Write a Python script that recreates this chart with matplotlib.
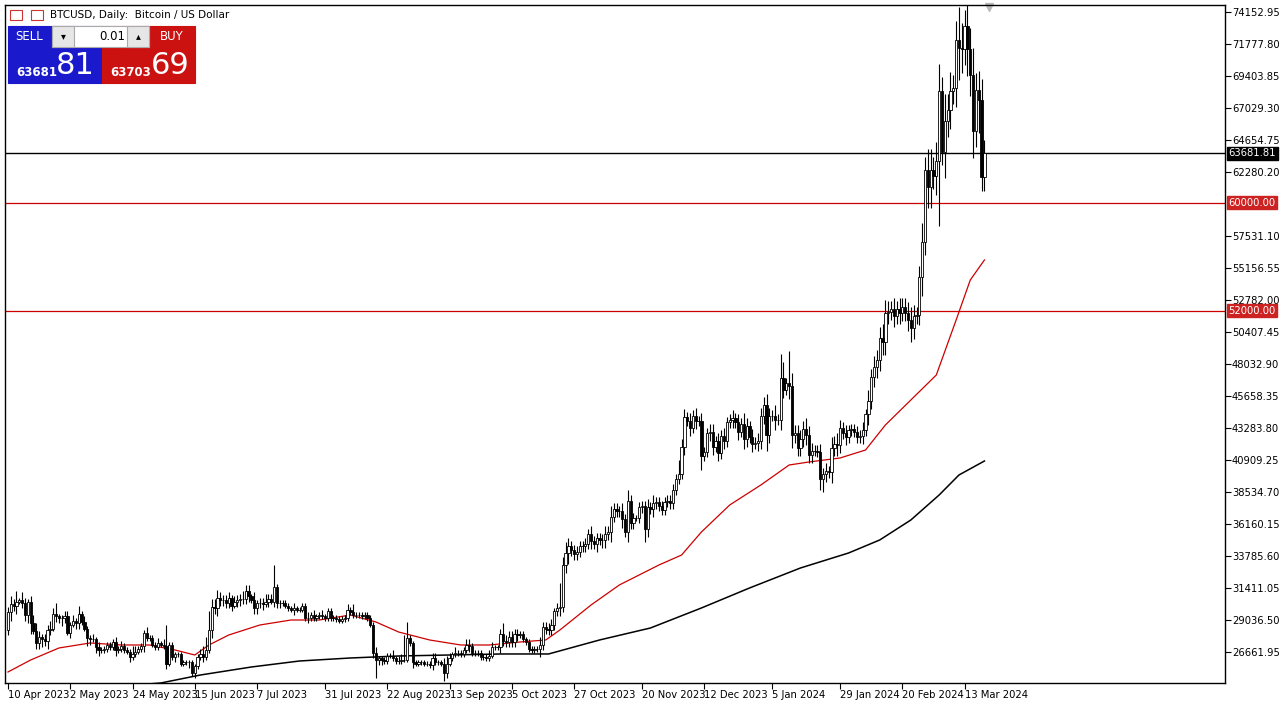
import datetime as dt
import numpy as np
import matplotlib
matplotlib.use("Agg")
import matplotlib.pyplot as plt
from matplotlib.patches import Rectangle
from matplotlib.transforms import blended_transform_factory

#
# Daily closes (thousands USD), 10 Apr 2023 .. 20 Mar 2024
#
closes_by_month = [
    [29.6, 30.2, 30.1, 30.4, 30.5, 30.3, 29.4, 30.4, 28.8, 28.2, 27.3, 27.8, 27.6, 27.5, 28.3, 28.4, 29.5, 29.3, 29.2, 29.2, 29.3],
    [28.1, 28.7, 29.0, 28.8, 29.5, 28.9, 28.4, 27.7, 27.6, 27.6, 27.0, 26.8, 26.8, 26.9, 27.2, 27.0, 27.4, 26.8, 26.9, 27.1, 26.8, 26.7, 26.3, 26.5, 26.7, 26.9, 27.1, 28.1, 27.7, 27.7, 27.2],
    [27.0, 27.3, 27.2, 27.1, 25.8, 27.2, 26.3, 26.5, 26.5, 25.8, 25.9, 25.9, 25.9, 25.1, 25.6, 26.3, 26.5, 26.3, 26.8, 28.3, 30.0, 29.9, 30.7, 30.5, 30.5, 30.3, 30.7, 30.1, 30.4, 30.5],
    [30.6, 30.6, 31.2, 30.8, 30.5, 29.9, 30.3, 30.3, 30.2, 30.4, 30.6, 30.4, 31.5, 30.3, 30.3, 30.3, 30.1, 29.9, 29.8, 29.9, 29.8, 29.8, 30.1, 29.2, 29.2, 29.4, 29.2, 29.3, 29.4, 29.3, 29.2],
    [29.7, 29.2, 29.2, 29.1, 29.0, 29.1, 29.2, 29.8, 29.6, 29.4, 29.4, 29.4, 29.3, 29.4, 29.2, 28.7, 26.6, 26.1, 26.2, 26.1, 26.0, 26.4, 26.4, 26.2, 26.0, 26.0, 26.1, 26.1, 27.7, 27.3, 25.9],
    [25.8, 25.9, 25.9, 25.8, 25.8, 25.7, 26.2, 25.9, 25.9, 25.8, 25.1, 25.8, 26.2, 26.5, 26.6, 26.6, 26.5, 26.8, 27.2, 27.1, 26.6, 26.6, 26.6, 26.3, 26.3, 26.2, 26.4, 27.0, 27.0, 27.0],
    [28.0, 27.5, 27.4, 27.8, 27.4, 28.0, 27.9, 28.0, 27.6, 27.4, 26.9, 26.8, 26.9, 26.9, 27.2, 28.5, 28.4, 28.3, 28.7, 29.7, 29.9, 30.0, 33.1, 34.0, 34.5, 34.2, 33.9, 34.1, 34.5, 34.5, 34.7],
    [35.4, 34.9, 34.7, 35.1, 35.0, 35.0, 35.4, 35.6, 36.7, 37.3, 37.1, 37.1, 36.5, 35.6, 37.9, 36.2, 36.6, 36.6, 37.4, 37.5, 35.8, 37.4, 37.3, 37.7, 37.8, 37.5, 37.2, 37.8, 37.9, 37.7],
    [38.7, 39.5, 39.9, 41.9, 44.1, 43.8, 43.3, 44.2, 43.8, 43.8, 41.2, 41.5, 42.9, 43.0, 41.9, 42.3, 41.4, 42.7, 42.3, 43.7, 43.9, 44.0, 43.7, 43.0, 43.6, 42.5, 43.4, 42.6, 42.1, 42.2, 42.3],
    [44.2, 45.0, 42.8, 44.2, 44.2, 43.9, 43.9, 47.0, 46.1, 46.6, 46.4, 42.8, 42.9, 41.8, 42.5, 43.2, 42.8, 41.3, 41.6, 41.6, 41.5, 39.5, 39.9, 40.1, 40.0, 41.8, 42.1, 42.0, 43.3, 42.9, 42.6],
    [43.1, 43.2, 43.0, 42.6, 42.7, 43.1, 44.3, 45.3, 47.1, 47.8, 48.3, 50.0, 49.7, 51.8, 51.9, 52.1, 51.6, 52.1, 51.8, 52.3, 51.8, 51.3, 50.7, 51.6, 51.7, 54.5, 57.1, 62.4, 61.2],
    [62.4, 62.0, 63.1, 68.3, 63.8, 66.1, 66.9, 68.3, 68.5, 72.1, 71.5, 71.4, 73.1, 71.4, 69.5, 65.3, 68.4, 67.6, 61.9, 63.68],
]
first_open = 28.3

# wick lengths in units of 200 USD, base-36 digits, one char per day
upper_wicks = [
    "232413212332122324112",
    "2121312112121111121211132111211",
    "121281111111111123573332222122",
    "2322131223228111111211112121121",
    "1111111213111111121111121229611",
    "111111221123212111221111112211",
    "2422222111111132222129343222222",
    "232222324222324221222323222222",
    "2253323232322332323223232432323",
    "3343242962c53333433223232434323",
    "22222324344455434343345434758",
    "857a5a6757c96a8a6785",
]
lower_wicks = [
    "232312234122323212232",
    "1212211321221111121111211112111",
    "111121121111212112113232222212",
    "2222122221212221111211112111111",
    "1111111111111111272211111111112",
    "111111211132111111121111111111",
    "2222222111111132222223234222222",
    "232323324222324221225323222222",
    "2222323232522332323223232432323",
    "3363242432553333433224532434323",
    "22222324344455434343345434758",
    "857o5a6757c96a8a6c55",
]

# moving averages: (day offset, price)
red_ma_days = [0, 8, 18, 29, 40, 50, 59, 66, 71, 78, 89, 100, 110, 121, 130, 138, 149, 160, 170, 181,
               190, 195, 206, 216, 230, 238, 245, 255, 266, 276, 283, 294, 303, 310, 319, 328, 335, 340, 345]
red_ma_vals = [25181, 26071, 26962, 27333, 27184, 27184, 26813, 26442, 27184, 27926, 28668, 29039, 29039, 29410,
               28891, 28149, 27555, 27184, 27184, 27407, 27555, 28297, 30152, 31636, 33120, 33862, 35569, 37572,
               39056, 40540, 40763, 41060, 41653, 43508, 45363, 47218, 51299, 54267, 55751]
black_ma_days = [45, 54, 68, 86, 103, 121, 138, 156, 174, 191, 209, 227, 245, 262, 280, 297, 308, 319, 329, 336, 345]
black_ma_vals = [24216, 24365, 24958, 25552, 25997, 26220, 26368, 26442, 26517, 26517, 27555, 28446, 29930,
                 31414, 32898, 34011, 34975, 36459, 38314, 39798, 40837]

tick_dates = ["10 Apr 2023", "2 May 2023", "24 May 2023", "15 Jun 2023", "7 Jul 2023", "31 Jul 2023",
              "22 Aug 2023", "13 Sep 2023", "5 Oct 2023", "27 Oct 2023", "20 Nov 2023", "12 Dec 2023",
              "5 Jan 2024", "29 Jan 2024", "20 Feb 2024", "13 Mar 2024"]
price_ticks = [74152.95, 71777.80, 69403.85, 67029.30, 64654.75, 62280.20, 57531.10, 55156.55, 52782.00,
               50407.45, 48032.90, 45658.35, 43283.80, 40909.25, 38534.70, 36160.15, 33785.60, 31411.05,
               29036.50, 26661.95]
current_price = 63681.81
levels = [60000.00, 52000.00]
start = dt.date(2023, 4, 10)

close = np.array([c for m in closes_by_month for c in m]) * 1000
up = np.array([int(ch, 36) for s in upper_wicks for ch in s]) * 200
dn = np.array([int(ch, 36) for s in lower_wicks for ch in s]) * 200
n = min(len(close), len(up), len(dn))
close, up, dn = close[:n], up[:n], dn[:n]
opn = np.concatenate([[first_open * 1000], close[:-1]])
top = np.maximum(opn, close)
bot = np.minimum(opn, close)
high = top + up
low = bot - dn
x = np.arange(n)

W, H = 1285, 707
fig = plt.figure(figsize=(W / 100, H / 100), dpi=100)
fig.patch.set_facecolor("white")
ax = fig.add_axes([5 / W, 24 / H, 1220 / W, 678 / H])

ax.set_xlim(-1.06, 430)
ax.set_ylim(24364, 74672)

# levels
ax.axhline(current_price, color="black", lw=1)
for lv in levels:
    ax.axhline(lv, color="#cc0000", lw=0.9)

# moving averages
ax.plot(red_ma_days, red_ma_vals, color="#cc0000", lw=0.9)
ax.plot(black_ma_days, black_ma_vals, color="black", lw=1.1)

# candles
ax.vlines(x, low, high, color="black", lw=0.8)
bull = close >= opn
ax.bar(x[bull], (top - bot)[bull], bottom=bot[bull], width=0.8, facecolor="white",
       edgecolor="black", linewidth=0.6, zorder=3)
ax.bar(x[~bull], (top - bot)[~bull], bottom=bot[~bull], width=0.8, facecolor="black",
       edgecolor="black", linewidth=0.6, zorder=3)

# price axis
ax.yaxis.tick_right()
ax.set_yticks(price_ticks)
ax.set_yticklabels(["%.2f" % p for p in price_ticks])
ax.tick_params(axis="y", labelsize=7.2, length=4, pad=1, direction="out")

tick_pos = [(dt.datetime.strptime(d, "%d %b %Y").date() - start).days for d in tick_dates]
ax.set_xticks(tick_pos)
ax.set_xticklabels(tick_dates)
ax.tick_params(axis="x", labelsize=7.2, length=4, pad=1, direction="out")
for lab in ax.get_xticklabels():
    lab.set_horizontalalignment("left")

for sp in ax.spines.values():
    sp.set_linewidth(1)

tr = blended_transform_factory(ax.transAxes, ax.transData)
ax.text(1.003, current_price, "%.2f" % current_price, transform=tr, fontsize=7.2, color="white",
        va="center", ha="left", bbox=dict(boxstyle="square,pad=0.15", fc="black", ec="black"))
for lv in levels:
    ax.text(1.003, lv, "%.2f" % lv, transform=tr, fontsize=7.2, color="white", va="center", ha="left",
            bbox=dict(boxstyle="square,pad=0.15", fc="#cc2222", ec="#cc2222"))

# small shift marker at the top
ax.plot([n + 0.5], [74500], marker="v", color="#bbbbbb", ms=6, clip_on=False)

#
# trade panel (figure pixel coordinates)
#
def px(xp, yp):
    return xp / W, 1 - yp / H

def box(x0, y0, w, h, fc, ec=None):
    fig.patches.append(Rectangle(px(x0, y0 + h), w / W, h / H, transform=fig.transFigure,
                                 fc=fc, ec=ec if ec else fc, lw=0.8))

fig.text(*px(50, 15), "BTCUSD, Daily:  Bitcoin / US Dollar", fontsize=7.5, va="center")
box(10, 10, 12, 10, "white", "#cc3333")
box(31, 10, 12, 10, "white", "#cc3333")
box(8, 26, 94, 57, "#1a1acc")
box(102, 26, 93, 57, "#cc1111")
box(52, 26, 97, 21, "white", "#aaaaaa")
box(52, 26, 22, 21, "#e6e6e6", "#aaaaaa")
box(127, 26, 22, 21, "#e6e6e6", "#aaaaaa")
fig.text(*px(29, 36), "SELL", color="white", fontsize=8.5, ha="center", va="center")
fig.text(*px(172, 36), "BUY", color="white", fontsize=8.5, ha="center", va="center")
fig.text(*px(63, 36), "▾", fontsize=7, ha="center", va="center")
fig.text(*px(138, 36), "▴", fontsize=7, ha="center", va="center")
fig.text(*px(125, 36), "0.01", fontsize=8.5, ha="right", va="center")
fig.text(*px(16, 72), "63681", color="white", fontsize=8.5, weight="bold", va="center")
fig.text(*px(56, 66), "81", color="white", fontsize=22, va="center")
fig.text(*px(110, 72), "63703", color="white", fontsize=8.5, weight="bold", va="center")
fig.text(*px(151, 66), "69", color="white", fontsize=22, va="center")

fig.savefig("out.png", dpi=100)
